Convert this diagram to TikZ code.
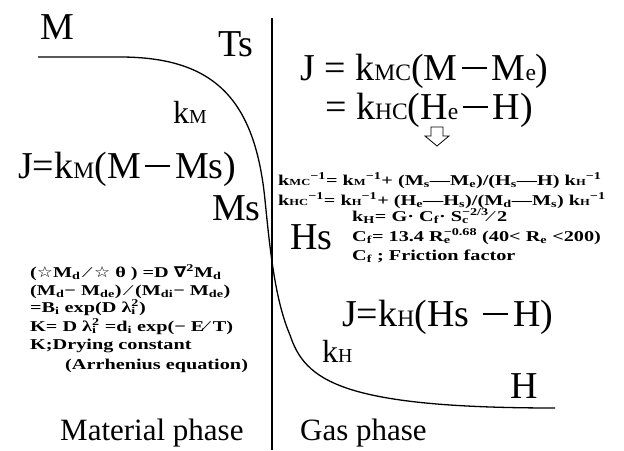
\documentclass[tikz,border=0pt]{standalone}
\usepackage{fontspec}
\setmainfont{Liberation Serif}
\newfontfamily\widef[FakeStretch=1.35]{Liberation Serif}
\newfontfamily\symf[FakeStretch=1.2]{DejaVu Sans}
\newcommand\lc[1]{\scalebox{0.62}{#1}}
\newcommand\mn{\hspace{0.12em}\rule[0.28em]{0.66em}{0.06em}\hspace{0.12em}}
\newcommand\subsup[2]{\makebox[0pt][l]{\textsubscript{#1}}\textsuperscript{#2}}
\begin{document}
\begin{tikzpicture}[x=1pt,y=-1pt,
  big/.style={inner sep=0pt,anchor=base west,font=\fontsize{38}{38}\selectfont},
  lab/.style={inner sep=0pt,anchor=base west,font=\fontsize{38}{38}\selectfont},
  klab/.style={inner sep=0pt,anchor=base west,font=\fontsize{32}{32}\selectfont},
  small/.style={inner sep=0pt,anchor=base west,font=\fontsize{15}{15}\widef\bfseries},
  phase/.style={inner sep=0pt,anchor=base west,font=\fontsize{31}{31}\selectfont},
  curve/.style={line width=1.3pt}]
\useasboundingbox (0,0) rectangle (624,450);
\fill[white] (0,0) rectangle (624,450);
% divider and profile curve
\draw[line width=1.3pt] (272,18) -- (272,450);
\draw[curve] (38,57) -- (120,57) .. controls (215,57) and (255,100) .. (265,200)
  .. controls (270,250) and (275,300) .. (290,335)
  .. controls (305,380) and (340,408) .. (555,408);
% labels on the left
\node[lab] (m) at (40,39) {M};
\node[lab] (ts) at (218,56) {Ts};
\node[klab] (km) at (173,123) {k\lc{M}};
\node[big] (jm) at (18,178) {J=k\lc{M}(M\mn Ms)};
\node[lab] (ms) at (212,220) {Ms};
% left small block
\node[small] (l1) at (30,277) {({\symf☆}M\textsubscript{d} ⁄ {\symf☆} θ ) =D {\symf∇}\textsuperscript{2}M\textsubscript{d}};
\node[small] (l2) at (30,295) {(M\textsubscript{d}− M\textsubscript{de}) ⁄ (M\textsubscript{di}− M\textsubscript{de})};
\node[small] (l3) at (30,312) {=B\textsubscript{i} exp(D λ\subsup{i}{2})};
\node[small] (l4) at (30,331) {K= D λ\subsup{i}{2} =d\textsubscript{i} exp(− E⁄ T)};
\node[small] (l5) at (30,349) {K;Drying constant};
\node[small] (l6) at (65,369) {(Arrhenius equation)};
% right side
\node[big] (j1) at (300,80) {J = k\lc{MC}(M\mn M\lc{e})};
\node[big] (j2) at (325,119) {= k\lc{HC}(H\lc{e}\mn H)};
\draw[line width=0.8pt] (431,127) -- (443,127) -- (443,136) -- (449,136) -- (437,146) -- (425,136) -- (431,136) -- cycle;
\node[small] (r1) at (278,185) {k\lc{MC}\textsuperscript{−1}= k\lc{M}\textsuperscript{−1}+ (M\textsubscript{s}—M\textsubscript{e})/(H\textsubscript{s}—H) k\lc{H}\textsuperscript{−1}};
\node[small] (r2) at (278,205) {k\lc{HC}\textsuperscript{−1}= k\lc{H}\textsuperscript{−1}+ (H\textsubscript{e}—H\textsubscript{s})/(M\textsubscript{d}—M\textsubscript{s}) k\lc{H}\textsuperscript{−1}};
\node[small] (r3) at (352,221) {k\textsubscript{H}= G· C\textsubscript{f}· S\subsup{c}{−2/3}⁄ 2};
\node[lab] (hs) at (290,249) {Hs};
\node[small] (r4) at (352,241) {C\textsubscript{f}= 13.4 R\subsup{e}{−0.68} (40< R\textsubscript{e} <200)};
\node[small] (r5) at (352,260) {C\textsubscript{f} ; Friction factor};
\node[big] (jh) at (342,326) {J=k\lc{H}(Hs \mn H)};
\node[klab] (kh) at (322,362) {k\lc{H}};
\node[lab] (h) at (510,398) {H};
\node[phase] (mp) at (60,440) {Material phase};
\node[phase] (gp) at (300,440) {Gas phase};
\end{tikzpicture}
\end{document}
